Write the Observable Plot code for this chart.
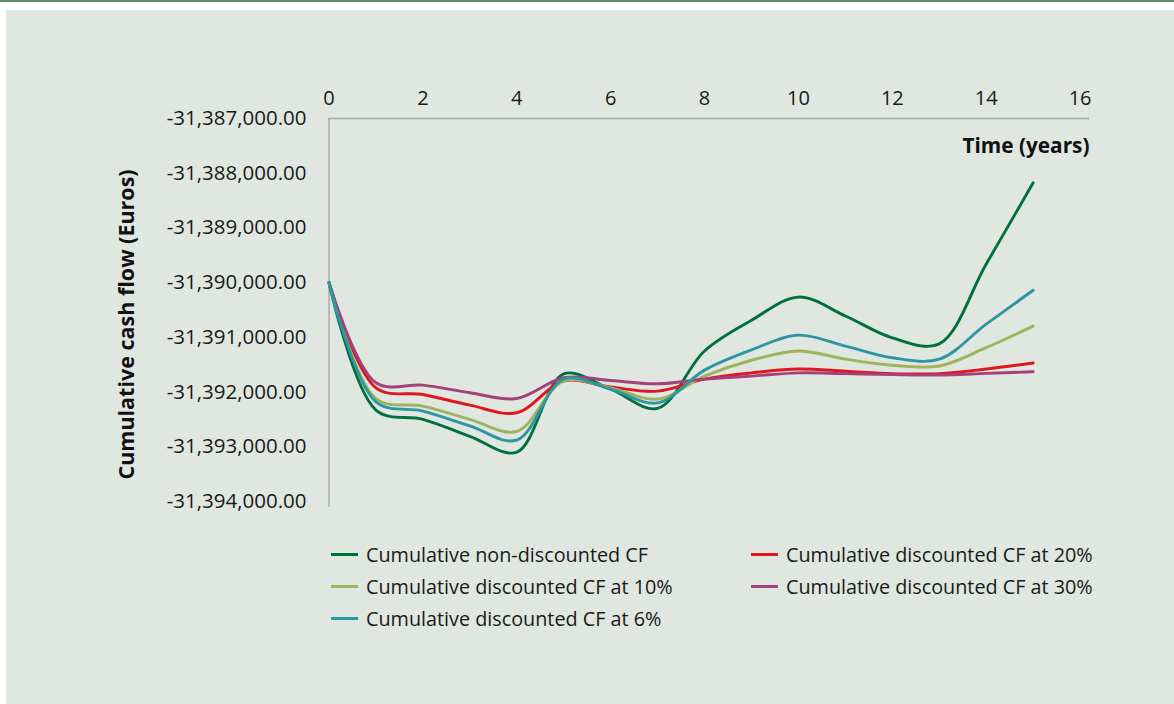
<!DOCTYPE html>
<html>
<head>
<meta charset="utf-8">
<script src="https://cdn.jsdelivr.net/npm/d3@7"></script>
<script src="https://cdn.jsdelivr.net/npm/@observablehq/plot@0.6"></script>
<style>
  html, body { margin: 0; padding: 0; background: #ffffff; }
  body { width: 1174px; height: 704px; overflow: hidden; position: relative; font-family: "Open Sans", sans-serif; }
  #topline { position: absolute; left: 0; top: 0; width: 1174px; height: 2px; background: #5f8d66; }
  #panel { position: absolute; left: 6px; top: 10px; width: 1168px; height: 694px; background: #dfe7e0; }
  #chart { position: absolute; left: 0; top: 0; }
  #legend { position: absolute; left: 325px; top: 529px; display: grid; grid-template-columns: 420px 420px; grid-auto-rows: 31.8px; }
  .item { display: flex; align-items: center; font-size: 19.8px; color: #1a1a1a; white-space: nowrap; }
  .sw { width: 27px; height: 3px; margin-right: 8px; flex: none; }
</style>
</head>
<body>
<div id="topline"></div>
<div id="panel">
  <div id="chart"></div>
  <div id="legend"></div>
</div>
<script>
// ---- data ----
const years = [0, 1, 2, 3, 4, 5, 6, 7, 8, 9, 10, 11, 12, 13, 14, 15];
const nonDiscounted = [-31390000, -31392330, -31392500, -31392810, -31393100, -31391670, -31391950, -31392300, -31391250, -31390690, -31390265, -31390610, -31391010, -31391120, -31389660, -31388175];
const disc20 = [-31390000, -31391925, -31392045, -31392240, -31392380, -31391800, -31391910, -31391985, -31391765, -31391650, -31391580, -31391620, -31391665, -31391665, -31391580, -31391470];
const disc10 = [-31390000, -31392120, -31392258, -31392500, -31392720, -31391800, -31391925, -31392130, -31391710, -31391420, -31391250, -31391400, -31391510, -31391525, -31391190, -31390795];
const disc30 = [-31390000, -31391830, -31391875, -31392015, -31392120, -31391740, -31391790, -31391850, -31391765, -31391710, -31391650, -31391665, -31391680, -31391690, -31391660, -31391630];
const disc6 = [-31390000, -31392180, -31392350, -31392620, -31392880, -31391765, -31391950, -31392200, -31391600, -31391230, -31390960, -31391160, -31391375, -31391400, -31390760, -31390140];

const seriesNames = [
  "Cumulative non-discounted CF",
  "Cumulative discounted CF at 20%",
  "Cumulative discounted CF at 10%",
  "Cumulative discounted CF at 30%",
  "Cumulative discounted CF at 6%"
];
const seriesValues = [nonDiscounted, disc20, disc10, disc30, disc6];
const seriesColors = ["#00703c", "#e0161f", "#9fb35c", "#a5407a", "#2e95a2"];

const xTicks = [0, 2, 4, 6, 8, 10, 12, 14, 16];
const yTicks = [-31387000, -31388000, -31389000, -31390000, -31391000, -31392000, -31393000, -31394000];
const xTitle = "Time (years)";
const yTitle = "Cumulative cash flow (Euros)";

// ---- build table ----
const rows = [];
seriesNames.forEach((name, i) => {
  years.forEach((yr, j) => rows.push({series: name, year: yr, value: seriesValues[i][j]}));
});

const fmt = d => d3.format(",.2f")(d).replace("\u2212", "-");
const xMax = 16.2;
const yMin = -31394110, yMax = -31387000;

const chart = Plot.plot({
  width: 1168,
  height: 530,
  marginLeft: 322.5,
  marginRight: 85,
  marginTop: 108,
  marginBottom: 33.1,
  style: {background: "transparent", fontFamily: "'Open Sans', sans-serif", fontSize: "20px", color: "#1a1a1a"},
  x: {domain: [0, xMax]},
  y: {domain: [yMin, yMax]},
  color: {domain: seriesNames, range: seriesColors},
  marks: [
    Plot.ruleY([yMax], {stroke: "#a6a6a6", strokeWidth: 1.4}),
    Plot.ruleX([0], {stroke: "#a6a6a6", strokeWidth: 1.4}),
    Plot.axisX({anchor: "top", ticks: xTicks, tickSize: 0, tickPadding: 20, lineAnchor: "middle", label: null, fontSize: 20}),
    Plot.axisY({anchor: "left", ticks: yTicks, tickSize: 0, tickPadding: 22.5, tickFormat: fmt, label: null, fontSize: 20.5}),
    Plot.line(rows, {x: "year", y: "value", z: "series", stroke: "series", strokeWidth: 2.9, curve: "catmull-rom"}),
    Plot.text([xTitle], {frameAnchor: "top-right", dy: 28, textAnchor: "end", lineAnchor: "middle", fontWeight: "bold", fontSize: 20.8, fill: "#111"}),
    Plot.text([yTitle], {frameAnchor: "left", dx: -201.5, dy: 11.5, rotate: -90, textAnchor: "middle", lineAnchor: "middle", fontWeight: "bold", fontSize: 21.5, fill: "#111"})
  ]
});
document.getElementById("chart").appendChild(chart);

// ---- legend (row-major, two columns) ----
const legend = document.getElementById("legend");
seriesNames.forEach((name, i) => {
  const item = document.createElement("div");
  item.className = "item";
  const sw = document.createElement("span");
  sw.className = "sw";
  sw.style.background = seriesColors[i];
  const label = document.createElement("span");
  label.textContent = name;
  item.appendChild(sw);
  item.appendChild(label);
  legend.appendChild(item);
});
</script>
</body>
</html>
